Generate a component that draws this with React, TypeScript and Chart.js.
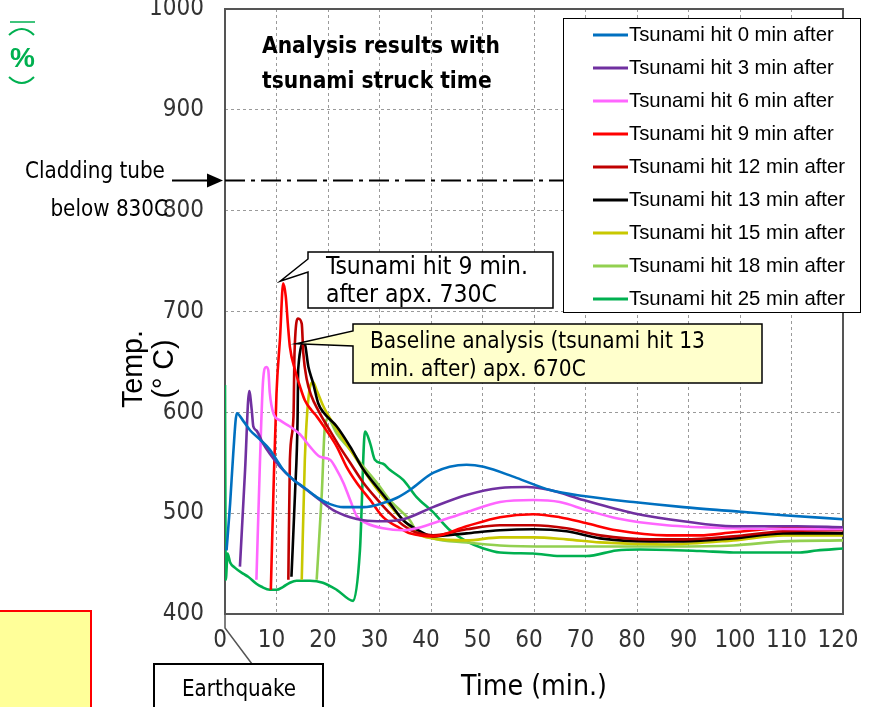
import React, { useEffect, useRef } from "react";
import { Chart, registerables } from "chart.js";

Chart.register(...registerables);

// ---------- data ----------
const seriesLabels = [
  "Tsunami hit 0 min after",
  "Tsunami hit 3 min after",
  "Tsunami hit 6 min after",
  "Tsunami hit 9 min after",
  "Tsunami hit 12 min after",
  "Tsunami hit 13 min after",
  "Tsunami hit 15 min after",
  "Tsunami hit 18 min after",
  "Tsunami hit 25 min after",
];
const seriesColors = [
  "#0070C0",
  "#7030A0",
  "#FF66FF",
  "#FF0000",
  "#C00000",
  "#000000",
  "#C8C800",
  "#92D050",
  "#00B050",
];

// [time (min), temperature (C)]
const hit0: number[][] = [[0.3,463],[1,510],[1.6,559],[2.3,599],[3.6,591],[4.9,582],[6.8,573],[8.7,563],[10,553],[11.3,543],[13.3,533],[15.2,526],[17.8,516],[20.4,509],[23,506],[26.9,506],[30.7,510],[33.3,515],[35.9,523],[40.4,540],[46.9,548],[50.2,546],[56.6,535],[63.1,523],[69.6,517],[79.3,511],[89,506],[98.7,502],[108.4,498],[120,494]];
const hit3: number[][] = [[2.9,447],[3.9,543],[4.7,621],[5.2,602],[5.5,586],[6.1,582],[7.4,569],[8.7,559],[10.7,546],[13.3,533],[15.9,523],[18.4,513],[21,503],[24.3,496],[26.9,493],[30.7,492],[34.6,494],[40.4,506],[46.9,518],[53.4,525],[58.6,526],[63.1,523],[69.6,513],[79.3,500],[89,492],[98.7,487],[111,487],[120,486]];
const hit6: number[][] = [[6.1,434],[6.8,553],[7.4,632],[8,645],[8.4,642],[8.7,619],[9.4,599],[10.7,592],[12.6,586],[14.6,578],[16.5,566],[18.4,556],[20.4,553],[21.7,543],[23,530],[24.3,513],[25.6,497],[27.5,490],[30.7,485],[34.6,483],[37.2,485],[40.4,490],[46.9,501],[53.4,511],[59.9,513],[65,511],[70.2,503],[76,495],[85.8,488],[98.7,485],[120,484]];
const hit9: number[][] = [[8.9,424],[9.4,520],[10,619],[10.7,675],[11.3,728],[11.8,715],[12.2,688],[12.6,665],[13.6,642],[14.6,625],[15.5,612],[16.8,602],[17.8,596],[19.7,582],[21.7,566],[23.6,546],[25.6,530],[28.2,513],[30.7,496],[34,485],[35.9,480],[40.4,477],[46.9,487],[53.4,496],[59.9,499],[65,496],[70.2,490],[76,483],[85.8,478],[92.2,478],[98.7,481],[108.4,485],[120,485]];
const hit12: number[][] = [[12.3,434],[12.6,553],[13.3,596],[13.5,659],[14.2,693],[14.9,688],[15.2,659],[15.9,632],[16.8,616],[18.1,602],[20,585],[22,568],[24.3,550],[26.9,530],[29.5,514],[32,500],[34.6,488],[37,481],[40.4,478],[46.9,484],[53.4,488],[59.9,488],[66.3,485],[72.8,478],[82.5,474],[89,474],[98.7,477],[108.4,482],[120,483]];
const hit13: number[][] = [[12.9,437],[13.6,520],[14.1,596],[14.2,642],[15.4,669],[16.2,645],[17.1,629],[18.1,609],[19.1,600],[21.7,586],[24.3,566],[26.9,543],[29.5,526],[32,510],[34.6,493],[37.2,484],[40.4,477],[46.9,480],[53.4,483],[59.9,484],[66.3,482],[72.8,475],[82.5,472],[89,472],[98.7,475],[108.4,480],[120,480]];
const hit15: number[][] = [[14.9,434],[15.5,553],[16.5,625],[17.1,630],[17.8,622],[19.1,606],[21,589],[23,573],[25.6,553],[28.2,533],[30.7,516],[33.3,500],[35.9,487],[37.2,480],[40.4,475],[46.9,473],[53.4,476],[59.9,476],[66.3,474],[72.8,471],[85.8,469],[98.7,473],[108.4,478],[120,478]];
const hit18: number[][] = [[17.8,434],[18.8,520],[19.4,586],[20.1,594],[20.7,589],[21.7,579],[24.3,563],[26.9,546],[29.5,530],[32,513],[34.6,500],[35.9,493],[37.2,482],[40.4,475],[46.9,471],[53.4,468],[63.1,467],[72.8,467],[85.8,467],[98.7,468],[108.4,472],[120,473]];
const hit25: number[][] = [[0,627],[0.15,434],[0.5,460],[1,451],[1.9,446],[3.5,440],[4.5,437],[6.1,430],[7.1,427],[8.7,424],[10,424],[11.3,427],[12.6,431],[13.9,433],[16.5,433],[19,431],[21.7,424],[24.9,413],[26.2,463],[27.2,581],[28.2,569],[29.1,553],[30.7,549],[32,543],[34.6,533],[37.2,516],[40.4,501],[43.7,483],[46.9,472],[50.2,465],[53.4,461],[59.8,460],[65,457.5],[70.2,457.5],[76,463],[80.6,464],[92.2,462.5],[98.7,461],[111.7,461],[114.9,463],[120,465]];
const allSeries = [hit0, hit3, hit6, hit9, hit12, hit13, hit15, hit18, hit25];

const xMin = 0, xMax = 120, xStep = 10;
const yMin = 400, yMax = 1000, yStep = 100;
const claddingLimit = 830;
const peak9 = [11.3, 728];
const peak13 = [15.4, 669];

const titleLines = ["Analysis results with", "tsunami struck time"];
const claddingLines = ["Cladding tube", "below 830C"];
const callout9Lines = ["Tsunami hit 9 min.", "after apx. 730C"];
const calloutBaseLines = ["Baseline analysis (tsunami hit 13", "min. after) apx. 670C"];
const yTitleLines = ["Temp.", "(° C)"];
const xTitle = "Time (min.)";
const quakeLabel = "Earthquake";

// ---------- layout ----------
const W = 869;
const H = 727;
const OY = 20; // canvas is shifted up by this many px

const TAHOMA = "'DejaVu Sans Condensed', 'DejaVu Sans', sans-serif";
const ARIAL = "'Liberation Sans', Arial, sans-serif";
const NARROW = "'Liberation Sans Narrow', 'Arial Narrow', 'DejaVu Sans Condensed', 'Liberation Sans', sans-serif";

function fitSize(ctx: CanvasRenderingContext2D, text: string, width: number, family: string, weight = "normal") {
  ctx.font = `${weight} 100px ${family}`;
  const w = ctx.measureText(text).width;
  return (100 * width) / w;
}

const overlay = {
  id: "overlay",
  beforeDatasetsDraw(chart: any) {
    const { ctx, chartArea: a } = chart;
    ctx.save();
    ctx.strokeStyle = "#555555";
    ctx.lineWidth = 2;
    ctx.strokeRect(a.left, a.top, a.right - a.left, a.bottom - a.top);
    ctx.restore();
  },
  afterDraw(chart: any) {
    const { ctx, chartArea: a } = chart;
    const xs = chart.scales.x;
    const ys = chart.scales.y;
    ctx.save();
    ctx.textBaseline = "middle";
    ctx.fillStyle = "#000";

    // cladding limit line
    const yc = ys.getPixelForValue(claddingLimit);
    ctx.strokeStyle = "#000";
    ctx.lineWidth = 2;
    ctx.setLineDash([20, 6, 4, 6]);
    ctx.beginPath();
    ctx.moveTo(a.left, yc);
    ctx.lineTo(563, yc);
    ctx.stroke();
    ctx.setLineDash([]);
    // arrow
    ctx.beginPath();
    ctx.moveTo(172, yc);
    ctx.lineTo(210, yc);
    ctx.stroke();
    ctx.beginPath();
    ctx.moveTo(207, yc - 7);
    ctx.lineTo(223, yc);
    ctx.lineTo(207, yc + 7);
    ctx.closePath();
    ctx.fill();

    // legend
    ctx.fillStyle = "#fff";
    ctx.fillRect(563, 18 + OY, 297, 294);
    ctx.strokeStyle = "#000";
    ctx.lineWidth = 1;
    ctx.strokeRect(563.5, 18.5 + OY, 297, 294);
    const ds = chart.data.datasets;
    const lsz = fitSize(ctx, ds[0].label, 205, ARIAL);
    ctx.font = `${lsz}px ${ARIAL}`;
    ctx.textAlign = "left";
    ds.forEach((d: any, i: number) => {
      const yy = 35 + OY + i * 33;
      ctx.strokeStyle = d.borderColor;
      ctx.lineWidth = 3;
      ctx.beginPath();
      ctx.moveTo(593, yy);
      ctx.lineTo(628, yy);
      ctx.stroke();
      ctx.fillStyle = "#000";
      ctx.fillText(d.label, 629, yy);
    });

    // title
    const tsz = fitSize(ctx, titleLines[0], 238, TAHOMA, "bold");
    ctx.font = `bold ${tsz}px ${TAHOMA}`;
    ctx.fillStyle = "#000";
    ctx.fillText(titleLines[0], 262, 47 + OY);
    ctx.fillText(titleLines[1], 262, 82 + OY);

    // cladding text
    const csz = fitSize(ctx, claddingLines[0], 140, TAHOMA);
    ctx.font = `${csz}px ${TAHOMA}`;
    ctx.textAlign = "left";
    ctx.fillText(claddingLines[0], 25, 172 + OY);
    ctx.textAlign = "right";
    ctx.fillText(claddingLines[1], 168, 210 + OY);
    ctx.textAlign = "left";

    // callout 9 min
    const t9x = xs.getPixelForValue(peak9[0]) - 3;
    const t9y = ys.getPixelForValue(peak9[1]) - 2;
    ctx.beginPath();
    ctx.moveTo(308, 252 + OY);
    ctx.lineTo(553, 252 + OY);
    ctx.lineTo(553, 308 + OY);
    ctx.lineTo(308, 308 + OY);
    ctx.lineTo(308, 272 + OY);
    ctx.lineTo(t9x, t9y);
    ctx.lineTo(308, 259 + OY);
    ctx.closePath();
    ctx.fillStyle = "#fff";
    ctx.fill();
    ctx.strokeStyle = "#000";
    ctx.lineWidth = 1.5;
    ctx.stroke();
    const c9 = fitSize(ctx, callout9Lines[0], 202, TAHOMA);
    ctx.font = `${c9}px ${TAHOMA}`;
    ctx.fillStyle = "#000";
    ctx.fillText(callout9Lines[0], 326, 268 + OY);
    ctx.fillText(callout9Lines[1], 326, 296 + OY);

    // callout baseline
    const tbx = xs.getPixelForValue(peak13[0]) - 8;
    const tby = ys.getPixelForValue(peak13[1]) + 1;
    ctx.beginPath();
    ctx.moveTo(353, 324 + OY);
    ctx.lineTo(762, 324 + OY);
    ctx.lineTo(762, 383 + OY);
    ctx.lineTo(353, 383 + OY);
    ctx.lineTo(353, 346 + OY);
    ctx.lineTo(tbx, tby);
    ctx.lineTo(353, 331 + OY);
    ctx.closePath();
    ctx.fillStyle = "#FFFFCC";
    ctx.fill();
    ctx.strokeStyle = "#000";
    ctx.lineWidth = 1.5;
    ctx.stroke();
    const cb = fitSize(ctx, calloutBaseLines[0], 335, TAHOMA);
    ctx.font = `${cb}px ${TAHOMA}`;
    ctx.fillStyle = "#000";
    ctx.fillText(calloutBaseLines[0], 370, 342 + OY);
    ctx.fillText(calloutBaseLines[1], 370, 370 + OY);

    // y title (rotated)
    const ysz = fitSize(ctx, yTitleLines[0], 78, ARIAL);
    ctx.font = `${ysz}px ${ARIAL}`;
    ctx.textAlign = "center";
    ctx.save();
    ctx.translate(134, 369 + OY);
    ctx.rotate(-Math.PI / 2);
    ctx.fillText(yTitleLines[0], 0, 0);
    ctx.restore();
    ctx.save();
    ctx.translate(165, 369 + OY);
    ctx.rotate(-Math.PI / 2);
    ctx.fillText(yTitleLines[1], 0, 0);
    ctx.restore();

    // x title
    const xsz = fitSize(ctx, xTitle, 146, NARROW);
    ctx.font = `${xsz}px ${NARROW}`;
    ctx.textAlign = "center";
    ctx.fillText(xTitle, 534, 688 + OY);

    // earthquake pointer + box
    ctx.strokeStyle = "#555";
    ctx.lineWidth = 1.5;
    ctx.beginPath();
    ctx.moveTo(a.left, a.bottom);
    ctx.lineTo(a.left, a.bottom + 14);
    ctx.lineTo(252, 664 + OY);
    ctx.stroke();
    ctx.strokeStyle = "#000";
    ctx.lineWidth = 2;
    ctx.fillStyle = "#fff";
    ctx.fillRect(154, 664 + OY, 169, 50);
    ctx.strokeRect(154, 664 + OY, 169, 50);
    const qsz = fitSize(ctx, quakeLabel, 114, NARROW);
    ctx.font = `${qsz}px ${NARROW}`;
    ctx.fillStyle = "#000";
    ctx.textAlign = "center";
    ctx.fillText(quakeLabel, 239, 690 + OY);

    // yellow note box
    ctx.fillStyle = "#FFFF99";
    ctx.fillRect(-2, 610 + OY, 93, 120);
    ctx.strokeStyle = "#FF0000";
    ctx.lineWidth = 2;
    ctx.strokeRect(-2, 611 + OY, 93, 120);

    // green percent mark
    ctx.strokeStyle = "#00B050";
    ctx.fillStyle = "#00B050";
    ctx.lineWidth = 1.5;
    ctx.beginPath();
    ctx.moveTo(10, 22 + OY);
    ctx.lineTo(35, 22 + OY);
    ctx.stroke();
    ctx.lineWidth = 2;
    ctx.beginPath();
    ctx.moveTo(9, 35 + OY);
    ctx.quadraticCurveTo(22, 23 + OY, 34, 35 + OY);
    ctx.stroke();
    ctx.beginPath();
    ctx.moveTo(9, 77 + OY);
    ctx.quadraticCurveTo(22, 89 + OY, 34, 77 + OY);
    ctx.stroke();
    ctx.font = `bold 28px ${ARIAL}`;
    ctx.textAlign = "center";
    ctx.fillText("%", 22.5, 59 + OY);

    ctx.restore();
  },
};

export default function App() {
  const ref = useRef<HTMLCanvasElement | null>(null);
  useEffect(() => {
    if (!ref.current) return;
    const chart = new Chart(ref.current, {
      type: "line",
      data: {
        datasets: allSeries.map((pts, i) => ({
          label: seriesLabels[i],
          data: pts.map(([x, y]) => ({ x, y })),
          borderColor: seriesColors[i],
          backgroundColor: seriesColors[i],
          borderWidth: 2.6,
          pointRadius: 0,
          cubicInterpolationMode: "monotone",
          fill: false,
        })),
      },
      options: {
        responsive: false,
        animation: false,
        devicePixelRatio: 1,
        layout: { padding: { left: 145, right: 26, top: 29, bottom: 18 } },
        plugins: { legend: { display: false }, tooltip: { enabled: false } },
        scales: {
          x: {
            type: "linear",
            min: xMin,
            max: xMax,
            afterFit: (s: any) => {
              s.height = 75;
              s.paddingLeft = 0;
              s.paddingRight = 0;
            },
            ticks: {
              stepSize: xStep,
              autoSkip: false,
              maxRotation: 0,
              padding: 12,
              labelOffset: -5,
              color: "#333",
              font: { family: NARROW, size: 24 },
              callback: (v: any) => String(v),
            },
            grid: { color: "#9a9a9a", lineWidth: 1, drawTicks: false },
            border: { display: false, dash: [3, 3] },
          },
          y: {
            type: "linear",
            min: yMin,
            max: yMax,
            afterFit: (s: any) => {
              s.width = 80;
              s.paddingTop = 0;
              s.paddingBottom = 0;
            },
            ticks: {
              stepSize: yStep,
              padding: 21,
              color: "#333",
              font: { family: NARROW, size: 24 },
              callback: (v: any) => String(v),
            },
            grid: { color: "#9a9a9a", lineWidth: 1, drawTicks: false },
            border: { display: false, dash: [3, 3] },
          },
        },
      },
      plugins: [overlay],
    });
    return () => chart.destroy();
  }, []);
  return (
    <div style={{ position: "fixed", left: 0, top: 0, width: W, height: 707, overflow: "hidden", background: "#fff" }}>
      <canvas ref={ref} width={W} height={H} style={{ position: "absolute", left: 0, top: -OY, width: W, height: H }} />
    </div>
  );
}
